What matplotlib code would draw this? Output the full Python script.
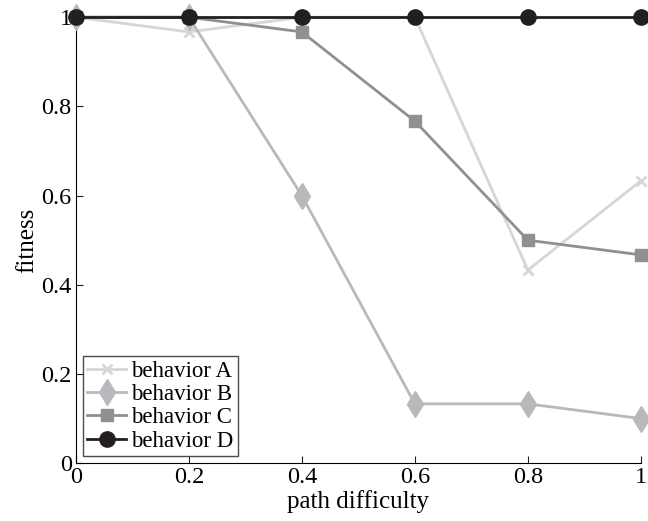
import matplotlib
matplotlib.use("Agg")
import matplotlib.pyplot as plt

# values
difficulty = [0, 0.2, 0.4, 0.6, 0.8, 1.0]
behavior_a = [1.0, 0.967, 1.0, 1.0, 0.433, 0.633]
behavior_b = [1.0, 1.0, 0.6, 0.133, 0.133, 0.1]
behavior_c = [1.0, 1.0, 0.967, 0.767, 0.5, 0.467]
behavior_d = [1.0, 1.0, 1.0, 1.0, 1.0, 1.0]

plt.rcParams['font.family'] = ['Liberation Serif', 'DejaVu Serif']

fig = plt.figure(figsize=(6.48, 5.21), dpi=100)
ax = fig.add_axes([0.117, 0.111, 0.872, 0.856])

ax.plot(difficulty, behavior_a, color='#d6d6d6', lw=2, marker='x', ms=7, mew=2,
        label='behavior A', clip_on=False, zorder=3)
ax.plot(difficulty, behavior_b, color='#b8b9bc', lw=2, marker='d', ms=13,
        label='behavior B', clip_on=False, zorder=4)
ax.plot(difficulty, behavior_c, color='#8f9094', lw=2, marker='s', ms=9,
        label='behavior C', clip_on=False, zorder=5)
ax.plot(difficulty, behavior_d, color='#231f20', lw=2, marker='o', ms=11,
        label='behavior D', clip_on=False, zorder=6)

ax.set_xlim(0, 1)
ax.set_ylim(0, 1)
ax.set_xticks([0, 0.2, 0.4, 0.6, 0.8, 1])
ax.set_xticklabels(['0', '0.2', '0.4', '0.6', '0.8', '1'])
ax.set_yticks([0, 0.2, 0.4, 0.6, 0.8, 1])
ax.set_yticklabels(['0', '0.2', '0.4', '0.6', '0.8', '1'])
ax.tick_params(direction='in', length=5, labelsize=17.5, color='#231f20', pad=3)
ax.spines['top'].set_visible(False)
ax.spines['right'].set_visible(False)
ax.set_xlabel('path difficulty', fontsize=18, labelpad=1)
ax.set_ylabel('fitness', fontsize=18, labelpad=2)

leg = ax.legend(loc='lower left', fontsize=16.5, frameon=True, fancybox=False,
                borderpad=0.2, labelspacing=0.1, handlelength=1.7,
                handletextpad=0.2, borderaxespad=0.3)
leg.get_frame().set_edgecolor('#231f20')
leg.get_frame().set_linewidth(1)

fig.savefig('out.png', dpi=100)
